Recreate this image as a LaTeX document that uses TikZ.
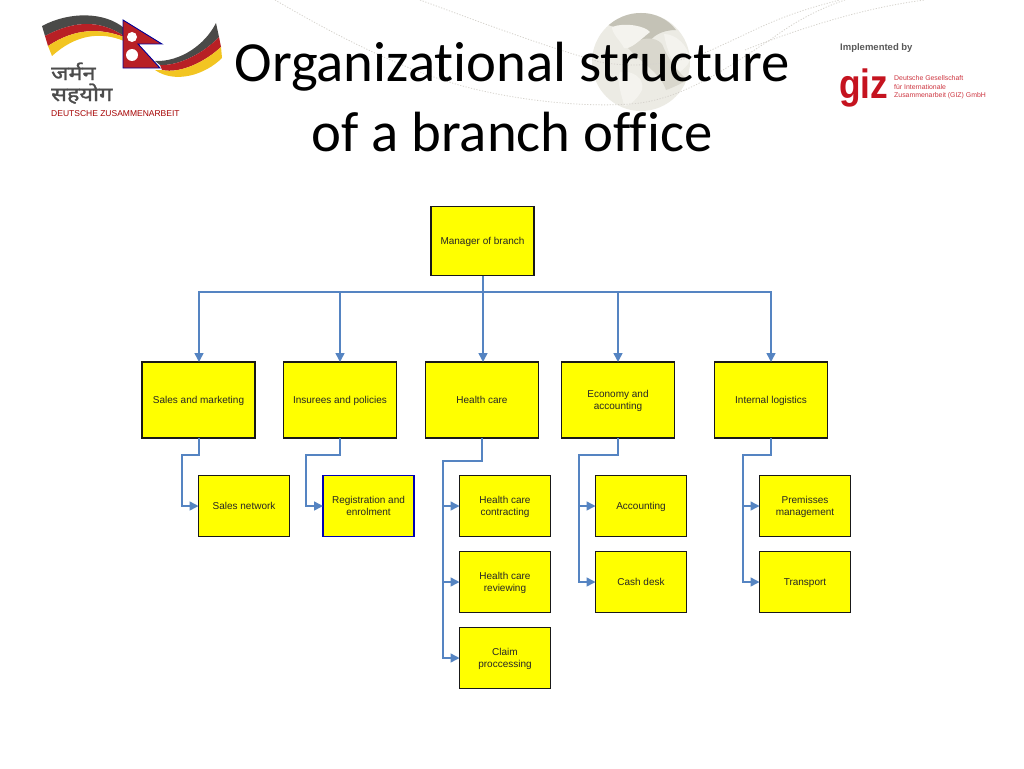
\documentclass[tikz,border=0pt]{standalone}
\usepackage{graphicx}
\usepackage{fontspec}
\setmainfont{Liberation Sans}
\newfontfamily\titlefont[Ligatures=NoCommon]{Carlito}
\newfontfamily\devafont[Script=Devanagari,FakeBold=1.4]{Noto Sans}
\definecolor{linkblue}{HTML}{5584C2}
\definecolor{boxyellow}{HTML}{FFFF00}
\definecolor{gizred}{HTML}{C5131F}
\definecolor{swoosh}{HTML}{D6D3CD}
\definecolor{globebase}{HTML}{ECEBE4}
\definecolor{globeland}{HTML}{F4F3EE}
\definecolor{globemid}{HTML}{D9D7CD}
\definecolor{globedark}{HTML}{C4C2B6}
\definecolor{flagblack}{HTML}{4A4A48}
\definecolor{flagred}{HTML}{B82025}
\definecolor{flaggold}{HTML}{F2C522}
\usetikzlibrary{arrows.meta}
\tikzset{
  x=1pt,y=-1pt,
  orgbox/.style={draw=black!90,line width=1.9pt,fill=boxyellow,align=center,inner sep=0pt,outer sep=0pt,font=\fontsize{10}{12.2}\selectfont,text=black!85,text depth=0pt},
  topbox/.style={orgbox,minimum width=113pt,minimum height=76pt},
  subbox/.style={orgbox,minimum width=91pt,minimum height=61pt},
  link/.style={draw=linkblue,line width=1.5pt},
  arrowlink/.style={link,-{Triangle[length=9pt,width=9pt,fill=linkblue]}},
  dots/.style={draw=swoosh,line width=.8pt,dash pattern=on 1.2pt off 1.6pt},
}
\begin{document}
\begin{tikzpicture}
\useasboundingbox (0,0) rectangle (1024,768);
\fill[white] (0,0) rectangle (1024,768);
% globe
\fill[globebase] (641,62) circle (49);
\begin{scope}
\clip (641,62) circle (49);
\fill[globedark] (608,25) .. controls (625,8) and (660,8) .. (676,30) .. controls (662,30) and (652,36) .. (648,44) .. controls (640,40) and (625,30) .. (608,25) -- cycle;
\fill[globemid] (628,48) .. controls (640,36) and (655,36) .. (662,44) .. controls (668,58) and (675,70) .. (688,80) .. controls (680,84) and (672,88) .. (666,90) .. controls (660,72) and (640,62) .. (628,48) -- cycle;
\fill[globeland] (612,27) .. controls (625,22) and (645,26) .. (650,32) .. controls (640,40) and (630,50) .. (624,48) .. controls (620,40) and (612,34) .. (612,27) -- cycle;
\fill[globeland] (664,34) .. controls (675,34) and (688,44) .. (690,60) .. controls (688,66) and (682,70) .. (680,72) .. controls (672,62) and (666,48) .. (664,34) -- cycle;
\fill[globeland] (620,72) .. controls (632,70) and (645,78) .. (642,90) .. controls (638,98) and (630,106) .. (624,106) .. controls (622,95) and (616,82) .. (620,72) -- cycle;
\end{scope}
% background swooshes
\draw[dots] (275,0) .. controls (330,32) and (400,70) .. (470,88) .. controls (530,103) and (600,108) .. (640,103) .. controls (690,96) and (735,62) .. (770,40) .. controls (790,25) and (815,10) .. (845,0);
\draw[dots] (420,0) .. controls (480,22) and (540,45) .. (600,62) .. controls (630,68) and (680,66) .. (720,46) .. controls (760,28) and (780,15) .. (840,0);
\draw[dots] (745,50) .. controls (790,32) and (860,8) .. (925,0);
% title
\node[font=\titlefont\fontsize{56.7}{69.5}\selectfont,align=center,inner sep=0pt,anchor=center] (title) at (512,97) {Organizational structure\\of a branch office};
% German-Nepal logo
\fill[flagblack] (42,26) .. controls (70,11) and (105,12) .. (124,28) -- (124,36) .. controls (100,20) and (75,20) .. (45,36) -- cycle;
\fill[flagred] (45,36) .. controls (75,20) and (100,20) .. (124,36) -- (124,37) .. controls (100,28) and (75,28) .. (48,46) -- cycle;
\fill[flaggold] (48,46) .. controls (75,28) and (100,28) .. (124,37) -- (124,41) .. controls (100,31) and (75,35) .. (52,56) -- cycle;
\fill[flagblack] (155,61) .. controls (180,62) and (205,45) .. (216,23) -- (219,37) .. controls (205,52) and (180,66) .. (160,65) -- cycle;
\fill[flagred] (160,65) .. controls (180,66) and (205,52) .. (219,37) -- (221,47) .. controls (205,62) and (180,74) .. (162,70) -- cycle;
\fill[flaggold] (162,70) .. controls (180,74) and (205,62) .. (221,47) -- (222,58) .. controls (205,75) and (175,84) .. (155,70) -- cycle;
\draw[fill=flagred,draw=blue!60!black,line width=.9pt] (123,20) -- (162,44) -- (138,44) -- (160,68) -- (123,68) -- cycle;
\fill[white] (132,37) circle (5);
\fill[white] (132,55) circle (6);
\node[font=\devafont\fontsize{19.5}{21}\selectfont,text=black!70,inner sep=0pt,anchor=base west] (hi1) at (51,80) {\scalebox{1.2}[1]{जर्मन}};
\node[font=\devafont\fontsize{19.5}{21}\selectfont,text=black!70,inner sep=0pt,anchor=base west] (hi2) at (51,101) {\scalebox{1.2}[1]{सहयोग}};
\node[font=\fontsize{8.5}{10}\selectfont,text=red!65!black,inner sep=0pt,anchor=west] (dz) at (51,113.5) {DEUTSCHE ZUSAMMENARBEIT};
% giz logo
\node[font=\bfseries\fontsize{9.5}{11}\selectfont,text=black!65,inner sep=0pt,anchor=west] (impl) at (840,48) {Implemented by};
\node[font=\bfseries\fontsize{41}{41}\selectfont,text=gizred,inner sep=0pt,anchor=west] (giz) at (839,88) {\scalebox{.86}[1]{giz}};
\node[font=\fontsize{6.9}{8.4}\selectfont,text=gizred!85,inner sep=0pt,anchor=west,align=left] (gizt) at (894,87.5) {Deutsche Gesellschaft\\für Internationale\\Zusammenarbeit (GIZ) GmbH};
% boxes
\node[orgbox,minimum width=103pt,minimum height=69pt] (mgr) at (482.5,241) {Manager of branch};
\node[topbox] (sales) at (198.5,400) {Sales and marketing};
\node[topbox] (ins) at (340,400) {Insurees and policies};
\node[topbox] (health) at (482,400) {Health care};
\node[topbox] (econ) at (618,400) {Economy and\\accounting};
\node[topbox] (intl) at (771,400) {Internal logistics};
\node[subbox] (net) at (244,506) {Sales network};
\node[subbox,draw=blue!70!black] (reg) at (368.5,506) {Registration and\\enrolment};
\node[subbox] (hcc) at (505,506) {Health care\\contracting};
\node[subbox] (hcr) at (505,582) {Health care\\reviewing};
\node[subbox] (claim) at (505,658) {Claim\\proccessing};
\node[subbox] (acc) at (641,506) {Accounting};
\node[subbox] (cash) at (641,582) {Cash desk};
\node[subbox] (prem) at (805,506) {Premisses\\management};
\node[subbox] (trans) at (805,582) {Transport};
% connectors
\coordinate (bus) at (483,292);
\coordinate (salestop) at ([xshift=.5pt]sales.north);
\draw[arrowlink] (bus |- mgr.south) -- (bus |- health.north);
\draw[arrowlink] (bus) -| (salestop);
\draw[arrowlink] (bus) -| (ins.north);
\draw[arrowlink] (bus) -| (econ.north);
\draw[arrowlink] (bus) -| (intl.north);
\draw[arrowlink] ([xshift=.5pt]sales.south) |- (182,455) |- (net.west);
\draw[arrowlink] (ins.south) |- (306,455) |- (reg.west);
\draw[arrowlink] (health.south) |- (443,461) |- (hcc.west);
\draw[arrowlink] (443,461) |- (hcr.west);
\draw[arrowlink] (443,461) |- (claim.west);
\draw[arrowlink] (econ.south) |- (579,455) |- (acc.west);
\draw[arrowlink] (579,455) |- (cash.west);
\draw[arrowlink] (intl.south) |- (743,455) |- (prem.west);
\draw[arrowlink] (743,455) |- (trans.west);
\end{tikzpicture}
\end{document}
